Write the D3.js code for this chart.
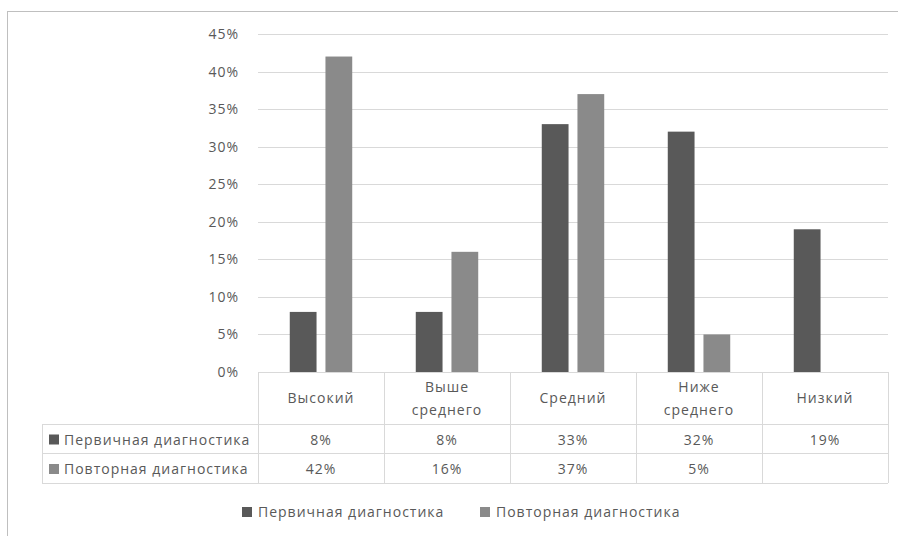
<html>
<head>
    <script src="https://cdn.jsdelivr.net/npm/d3@7"></script>
    <style>
        body { margin: 0; background: white; }
        svg text { font-family: "Open Sans", sans-serif; fill: #595959; letter-spacing: 1px; }
    </style>
</head>
<body>
<svg id="chart"></svg>
<script>
    // data
    let categories = [["Высокий"], ["Выше", "среднего"], ["Средний"], ["Ниже", "среднего"], ["Низкий"]];
    let seriesNames = ["Первичная диагностика", "Повторная диагностика"];
    let primaryValues = [0.08, 0.08, 0.33, 0.32, 0.19];
    let repeatValues = [0.42, 0.16, 0.37, 0.05, null];
    let yTicks = [0, 0.05, 0.10, 0.15, 0.20, 0.25, 0.30, 0.35, 0.40, 0.45];
    let seriesColors = ["#595959", "#8a8a8a"];

    let width = 898, height = 536;
    let svg = d3.select("#chart").attr("width", width).attr("height", height);

    // chart area border (right and bottom edges lie outside the picture)
    svg.append("rect")
        .attr("x", 7.5).attr("y", 11.5)
        .attr("width", 1000).attr("height", 1000)
        .attr("fill", "none").attr("stroke", "#bfbfbf");

    let catKeys = categories.map(c => c.join(" "));
    let x = d3.scaleBand().domain(catKeys).range([258, 888]);
    let xs = d3.scaleBand().domain([0, 1]).range([0, x.bandwidth()])
        .paddingInner(0.25).paddingOuter(0.89);
    let y = d3.scaleLinear().domain([0, 0.45]).range([372, 34]);

    // gridlines
    svg.append("g").selectAll("line").data(yTicks.slice(1)).join("line")
        .attr("x1", 258).attr("x2", 888)
        .attr("y1", d => Math.round(y(d)) + 0.5).attr("y2", d => Math.round(y(d)) + 0.5)
        .attr("stroke", "#d9d9d9");

    // y axis labels
    let yAxis = d3.axisLeft(y).tickValues(yTicks).tickFormat(d3.format(".0%")).tickSize(0).tickPadding(19);
    let ga = svg.append("g").attr("transform", "translate(258,0)").call(yAxis);
    ga.select(".domain").remove();
    ga.selectAll("text").attr("font-size", 14).attr("font-family", null).attr("fill", "#595959");

    // bars
    let series = [primaryValues, repeatValues];
    series.forEach((vals, si) => {
        svg.append("g").selectAll("rect")
            .data(vals.map((v, i) => ({ v, c: catKeys[i] })).filter(d => d.v != null))
            .join("rect")
            .attr("x", d => x(d.c) + xs(si))
            .attr("width", xs.bandwidth())
            .attr("y", d => y(d.v))
            .attr("height", d => y(0) - y(d.v))
            .attr("fill", seriesColors[si]);
    });

    // data table
    let rowTop = [372, 424, 453, 483];
    let tableLeft = 42;
    let grid = svg.append("g").attr("stroke", "#d9d9d9").attr("shape-rendering", "crispEdges");
    grid.append("line").attr("x1", 258).attr("x2", 888).attr("y1", 372).attr("y2", 372);
    [424, 453, 483].forEach(yy => {
        grid.append("line").attr("x1", tableLeft).attr("x2", 888).attr("y1", yy).attr("y2", yy);
    });
    grid.append("line").attr("x1", tableLeft).attr("x2", tableLeft).attr("y1", 424).attr("y2", 483);
    catKeys.forEach(c => {
        grid.append("line").attr("x1", x(c)).attr("x2", x(c)).attr("y1", 372).attr("y2", 483);
    });
    grid.append("line").attr("x1", 888).attr("x2", 888).attr("y1", 372).attr("y2", 483);

    // category labels
    categories.forEach((lines, i) => {
        let cx = x(catKeys[i]) + x.bandwidth() / 2;
        let t = svg.append("text").attr("text-anchor", "middle").attr("font-size", 14);
        let startY = lines.length === 1 ? 403 : 392;
        lines.forEach((l, j) => {
            t.append("tspan").attr("x", cx).attr("y", startY + j * 23).text(l);
        });
    });

    // table rows
    series.forEach((vals, si) => {
        let yMid = (rowTop[si + 1] + rowTop[si + 2]) / 2 + 6;
        svg.append("rect").attr("x", 49).attr("y", yMid - 10).attr("width", 10).attr("height", 10)
            .attr("fill", seriesColors[si]);
        svg.append("text").attr("x", 64).attr("y", yMid).attr("font-size", 14).text(seriesNames[si]);
        vals.forEach((v, i) => {
            if (v == null) return;
            svg.append("text").attr("x", x(catKeys[i]) + x.bandwidth() / 2).attr("y", yMid)
                .attr("text-anchor", "middle").attr("font-size", 14).text(d3.format(".0%")(v));
        });
    });

    // legend
    let legendX = [242, 480];
    seriesNames.forEach((name, si) => {
        svg.append("rect").attr("x", legendX[si]).attr("y", 507).attr("width", 10).attr("height", 10)
            .attr("fill", seriesColors[si]);
        svg.append("text").attr("x", legendX[si] + 16).attr("y", 517).attr("font-size", 14).text(name);
    });
</script>
</body>
</html>
